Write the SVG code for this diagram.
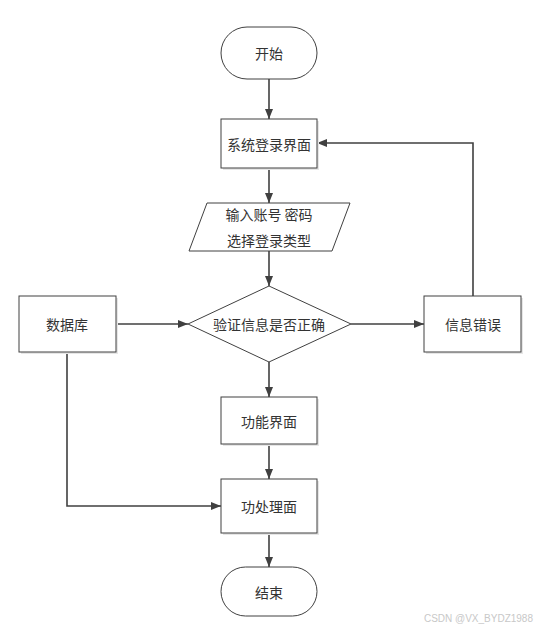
<svg xmlns="http://www.w3.org/2000/svg" width="537" height="630" viewBox="0 0 537 630">
<style>
.n{fill:#fff;stroke:#404040;stroke-width:1}
.t{font-family:"Noto Sans CJK SC","Noto Sans",sans-serif;font-size:14px;fill:#333;text-anchor:middle;dominant-baseline:central}
.c{fill:none;stroke:#404040;stroke-width:1.6}
.sh{fill:#e6e6e6;stroke:none}
</style>
<defs>
<marker id="ar" markerWidth="10" markerHeight="8" refX="10" refY="4" orient="auto" markerUnits="userSpaceOnUse">
<path d="M0,0 L10,4 L0,8 Z" fill="#404040"/>
</marker>
</defs>
<rect width="537" height="630" fill="#fff"/>
<g id="connectors">
<line class="c" x1="269" y1="79" x2="269" y2="119" marker-end="url(#ar)"/>
<line class="c" x1="269" y1="168" x2="269" y2="203" marker-end="url(#ar)"/>
<line class="c" x1="269" y1="251" x2="269" y2="286" marker-end="url(#ar)"/>
<line class="c" x1="116" y1="324" x2="188" y2="324" marker-end="url(#ar)"/>
<line class="c" x1="351" y1="324" x2="424" y2="324" marker-end="url(#ar)"/>
<polyline class="c" points="473,296 473,143 317,143" marker-end="url(#ar)"/>
<line class="c" x1="269" y1="362" x2="269" y2="397" marker-end="url(#ar)"/>
<line class="c" x1="269" y1="444" x2="269" y2="479" marker-end="url(#ar)"/>
<polyline class="c" points="67,352 67,506 221,506" marker-end="url(#ar)"/>
<line class="c" x1="269" y1="533" x2="269" y2="567" marker-end="url(#ar)"/>
</g>
<g id="start">
<rect class="n" x="221" y="27" width="96" height="52" rx="26"/>
<text class="t" x="269" y="53">开始</text>
</g>
<g id="login">
<rect class="sh" x="223" y="121" width="96" height="49"/>
<rect class="n" x="221" y="119" width="96" height="49"/>
<text class="t" x="269" y="144">系统登录界面</text>
</g>
<g id="input">
<polygon class="n" points="207,203 350,203 332,251 189,251"/>
<text class="t" x="269" y="214">输入账号 密码</text>
<text class="t" x="269" y="240">选择登录类型</text>
</g>
<g id="check">
<polygon class="n" points="269,286 351,324 269,362 188,324"/>
<text class="t" x="269" y="324">验证信息是否正确</text>
</g>
<g id="db">
<rect class="sh" x="21" y="298" width="97" height="56"/>
<rect class="n" x="19" y="296" width="97" height="56"/>
<text class="t" x="67" y="324">数据库</text>
</g>
<g id="error">
<rect class="sh" x="426" y="298" width="97" height="56"/>
<rect class="n" x="424" y="296" width="97" height="56"/>
<text class="t" x="473" y="324">信息错误</text>
</g>
<g id="func">
<rect class="sh" x="223" y="399" width="96" height="47"/>
<rect class="n" x="221" y="397" width="96" height="47"/>
<text class="t" x="269" y="421">功能界面</text>
</g>
<g id="proc">
<rect class="sh" x="223" y="481" width="96" height="54"/>
<rect class="n" x="221" y="479" width="96" height="54"/>
<text class="t" x="269" y="506">功处理面</text>
</g>
<g id="end">
<rect class="n" x="221" y="567" width="96" height="49" rx="24.5"/>
<text class="t" x="269" y="592">结束</text>
</g>
<text x="533" y="622" font-family="Liberation Sans,Arial,sans-serif" font-size="10" fill="#c8c8c8" text-anchor="end">CSDN @VX_BYDZ1988</text>
</svg>
